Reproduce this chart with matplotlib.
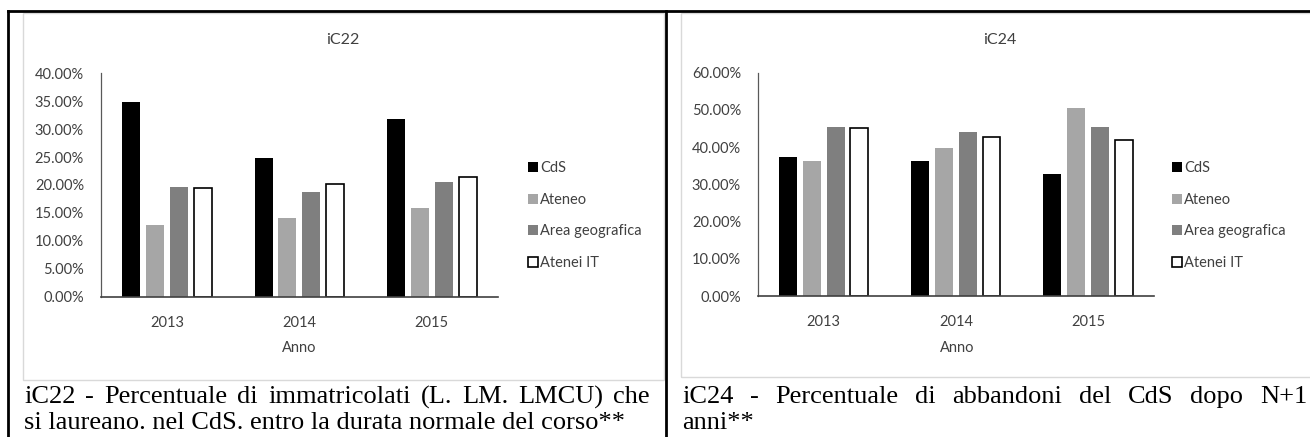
import matplotlib
matplotlib.use("Agg")
import matplotlib.pyplot as plt
from matplotlib.patches import Rectangle
from matplotlib.lines import Line2D
import numpy as np

# data
anni = ["2013", "2014", "2015"]
serie = ["CdS", "Ateneo", "Area geografica", "Atenei IT"]
ic22_cds = [34.9, 24.9, 31.9]
ic22_ateneo = [12.9, 14.1, 15.8]
ic22_area = [19.7, 18.7, 20.6]
ic22_atenei = [19.4, 20.1, 21.5]
ic24_cds = [37.4, 36.3, 32.8]
ic24_ateneo = [36.3, 39.8, 50.6]
ic24_area = [45.4, 44.2, 45.3]
ic24_atenei = [45.2, 42.6, 41.8]

caption_22 = ["iC22 - Percentuale di immatricolati (L. LM. LMCU) che",
              "si laureano. nel CdS. entro la durata normale del corso**"]
caption_24 = ["iC24 - Percentuale di abbandoni del CdS dopo N+1", "anni**"]

W, H = 1310, 437
fig = plt.figure(figsize=(W / 100, H / 100), dpi=100)
fig.patch.set_facecolor("white")

sans = ["Lato", "DejaVu Sans"]
txtcol = "#404040"
colori = ["black", "#a6a6a6", "#7f7f7f", "white"]
fs = 10.5


def fx(px):
    return px / W


def fy(py):
    return 1 - py / H


# table borders and chart area frames
fig.add_artist(Rectangle((fx(23), fy(380)), fx(664 - 23), (380 - 13) / H,
                         transform=fig.transFigure, fill=False, ec="#d9d9d9", lw=1))
fig.add_artist(Rectangle((fx(681), fy(377)), fx(1312 - 681), (377 - 13) / H,
                         transform=fig.transFigure, fill=False, ec="#d9d9d9", lw=1))
fig.add_artist(Line2D([fx(8), 1], [fy(11), fy(11)], transform=fig.transFigure, color="black", lw=2))
fig.add_artist(Line2D([fx(8), fx(8)], [fy(11), 0], transform=fig.transFigure, color="black", lw=2))
fig.add_artist(Line2D([fx(666), fx(666)], [fy(11), 0], transform=fig.transFigure, color="black", lw=2))


def grafico(rect, valori, ymax, ystep, titolo, titolo_x, anno_x, leg_x):
    ax = fig.add_axes(rect)
    x = np.arange(len(anni))
    for i, (nome, v) in enumerate(zip(serie, valori)):
        ec = "black" if nome == "Atenei IT" else colori[i]
        lw = 1.2 if nome == "Atenei IT" else 0
        ax.bar(x + (i - 1.5) * 0.18, v, width=0.136, color=colori[i],
               edgecolor=ec, linewidth=lw, label=nome)
    ax.set_xlim(-0.5, len(anni) - 0.5)
    ax.set_ylim(0, ymax)
    ticks = np.arange(0, ymax + 0.1, ystep)
    ax.set_yticks(ticks)
    ax.set_yticklabels(["%.2f%%" % t for t in ticks],
                       family=sans, fontsize=fs, color=txtcol)
    ax.set_xticks(x)
    ax.set_xticklabels(anni, family=sans, fontsize=fs, color=txtcol)
    ax.tick_params(length=0, pad=12)
    ax.tick_params(axis="x", pad=14)
    for s in ["top", "right"]:
        ax.spines[s].set_visible(False)
    ax.spines["left"].set_color("#595959")
    ax.spines["left"].set_linewidth(0.9)
    ax.spines["bottom"].set_color("#404040")
    ax.spines["bottom"].set_linewidth(1.2)
    ax.patch.set_alpha(0)
    fig.text(fx(titolo_x), fy(40), titolo, family=sans, fontsize=11.5,
             color=txtcol, ha="center", va="center")
    fig.text(fx(anno_x), fy(348), "Anno", family=sans, fontsize=fs,
             color=txtcol, ha="center", va="center")
    ax.legend(loc="center left", bbox_to_anchor=(fx(leg_x), fy(215.5)),
              bbox_transform=fig.transFigure, frameon=False,
              prop={"family": sans, "size": fs}, labelcolor=txtcol,
              handlelength=0.7, handleheight=0.7, handletextpad=0.15,
              labelspacing=1.2, borderpad=0, borderaxespad=0)
    return ax


grafico([fx(100.7), fy(296.7), fx(498 - 100.7), (296.7 - 73.3) / H],
        [ic22_cds, ic22_ateneo, ic22_area, ic22_atenei], 40, 5,
        "iC22", 343, 299, 528)
grafico([fx(757.7), fy(296), fx(1154 - 757.7), (296 - 72.7) / H],
        [ic24_cds, ic24_ateneo, ic24_area, ic24_atenei], 60, 10,
        "iC24", 1000, 957, 1172)

renderer = fig.canvas.get_renderer()


def didascalia(righe, x0, x1, ys):
    for k, (riga, y) in enumerate(zip(righe, ys)):
        parole = riga.split(" ")
        if k == len(righe) - 1:
            fig.text(fx(x0), fy(y), riga, family="Liberation Serif",
                     fontsize=19, color="black", ha="left", va="center")
            continue
        testi = [fig.text(0, fy(y), p, family="Liberation Serif", fontsize=19,
                          color="black", ha="left", va="center") for p in parole]
        larghezze = [t.get_window_extent(renderer).width for t in testi]
        gap = (x1 - x0 - sum(larghezze)) / (len(parole) - 1)
        pos = x0
        for t, w in zip(testi, larghezze):
            t.set_x(fx(pos))
            pos += w + gap


didascalia(caption_22, 24, 650, [397, 423])
didascalia(caption_24, 682, 1307, [397, 423])

fig.savefig("out.png", dpi=100)
